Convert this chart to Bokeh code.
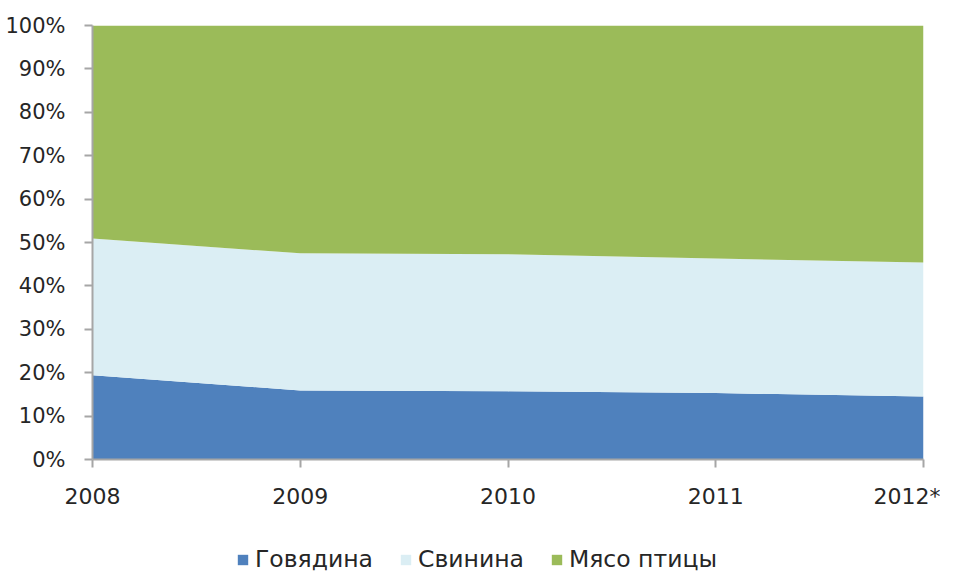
from bokeh.plotting import figure
from bokeh.layouts import column
from bokeh.models import ColumnDataSource, Legend, LegendItem, FixedTicker, Range1d
from bokeh.embed import file_html
from bokeh.resources import INLINE

years = ["2008", "2009", "2010", "2011", "2012*"]
beef = [19.4, 15.9, 15.7, 15.3, 14.5]
pork = [31.5, 31.6, 31.6, 31.0, 30.9]
poultry = [49.1, 52.5, 52.7, 53.7, 54.6]
series_names = ["Говядина", "Свинина", "Мясо птицы"]
y_ticks = [0, 10, 20, 30, 40, 50, 60, 70, 80, 90, 100]

colors = ["#4F81BD", "#DBEEF4", "#9BBB59"]
FONT = "DejaVu Sans"
TXT = "#262626"
AX = "#A6A6A6"

src = ColumnDataSource(dict(x=list(range(len(years))), beef=beef, pork=pork, poultry=poultry))

p = figure(width=940, height=519, output_backend="svg", toolbar_location=None,
           x_range=Range1d(0, len(years) - 1), y_range=Range1d(0, 100),
           min_border_left=92, min_border_right=17, min_border_top=25, min_border_bottom=60)
p.outline_line_color = None
p.xgrid.visible = False
p.ygrid.visible = False

rs = p.varea_stack(["beef", "pork", "poultry"], x="x", source=src, color=colors)

p.yaxis.ticker = FixedTicker(ticks=y_ticks)
p.yaxis.major_label_overrides = {t: f"{t}%" for t in y_ticks}
p.xaxis.ticker = FixedTicker(ticks=list(range(len(years))))
p.xaxis.major_label_overrides = {i: y for i, y in enumerate(years)}

for ax in (p.xaxis[0], p.yaxis[0]):
    ax.axis_line_color = AX
    ax.axis_line_width = 2
    ax.major_tick_line_color = AX
    ax.major_tick_line_width = 2
    ax.major_tick_in = 0
    ax.major_tick_out = 8
    ax.minor_tick_line_color = None
    ax.major_label_text_font = FONT
    ax.major_label_text_color = TXT
p.yaxis.major_label_text_font_size = "21px"
p.xaxis.major_label_text_font_size = "22px"
p.yaxis.major_label_standoff = 19
p.xaxis.major_label_standoff = 16

# legend-only strip below the chart (swatch renderers sit outside the visible range)
lg = figure(width=940, height=55, output_backend="svg", toolbar_location=None,
            x_range=Range1d(0, 1), y_range=Range1d(0, 1),
            min_border_left=0, min_border_right=0, min_border_top=0, min_border_bottom=0)
lg.axis.visible = False
lg.grid.visible = False
lg.outline_line_color = None
swatch_src = ColumnDataSource(dict(x=[-10], y=[-10]))
dummies = [lg.rect(x="x", y="y", width=0.01, height=0.01, source=swatch_src,
                   fill_color=c, line_color=None) for c in colors]

legend = Legend(items=[LegendItem(label=n, renderers=[r]) for n, r in zip(series_names, dummies)],
                orientation="horizontal", location=(144, 1),
                label_text_font=FONT, label_text_font_size="23.5px", label_text_color=TXT,
                glyph_width=13, glyph_height=13, label_standoff=6, spacing=26,
                border_line_color=None, background_fill_alpha=0, padding=0, margin=0)
lg.add_layout(legend, "center")

layout = column(p, lg, spacing=0)
open("out.html", "w").write(file_html(layout, INLINE))
